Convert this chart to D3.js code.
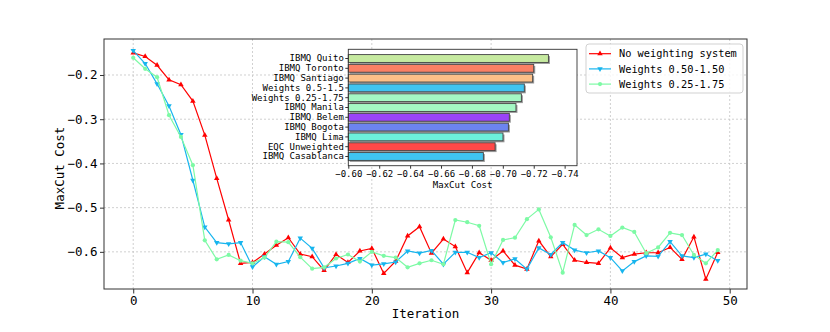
<!DOCTYPE html>
<html>
<head>
<meta charset="utf-8">
<script src="https://cdn.jsdelivr.net/npm/d3@7"></script>
<style>
body { margin: 0; background: #fff; }
svg text { font-family: "DejaVu Sans Mono", monospace; fill: #000; }
</style>
</head>
<body>
<svg id="chart"></svg>
<script>
// iterations on the x axis
var iterations = [0, 1, 2, 3, 4, 5, 6, 7, 8, 9, 10, 11, 12, 13, 14, 15, 16, 17, 18, 19,
	20, 21, 22, 23, 24, 25, 26, 27, 28, 29, 30, 31, 32, 33, 34, 35, 36, 37, 38, 39,
	40, 41, 42, 43, 44, 45, 46, 47, 48, 49];

var noWeighting = [-0.150, -0.158, -0.178, -0.211, -0.222, -0.259, -0.336, -0.434, -0.528, -0.626,
	-0.624, -0.605, -0.585, -0.568, -0.605, -0.611, -0.642, -0.606, -0.624, -0.598,
	-0.592, -0.649, -0.621, -0.564, -0.543, -0.603, -0.571, -0.588, -0.647, -0.602,
	-0.619, -0.598, -0.630, -0.639, -0.575, -0.611, -0.583, -0.619, -0.624, -0.626,
	-0.591, -0.613, -0.605, -0.602, -0.602, -0.590, -0.617, -0.566, -0.662, -0.601];

var weights050 = [-0.145, -0.174, -0.220, -0.270, -0.335, -0.438, -0.544, -0.579, -0.582, -0.579,
	-0.634, -0.611, -0.628, -0.622, -0.569, -0.592, -0.636, -0.632, -0.626, -0.615,
	-0.630, -0.627, -0.623, -0.598, -0.603, -0.597, -0.628, -0.601, -0.601, -0.613,
	-0.602, -0.624, -0.616, -0.639, -0.591, -0.606, -0.579, -0.596, -0.602, -0.598,
	-0.613, -0.643, -0.622, -0.609, -0.610, -0.577, -0.609, -0.613, -0.605, -0.620];

var weights025 = [-0.161, -0.186, -0.205, -0.291, -0.340, -0.404, -0.574, -0.617, -0.607, -0.620,
	-0.626, -0.613, -0.577, -0.578, -0.612, -0.638, -0.635, -0.615, -0.606, -0.622,
	-0.600, -0.609, -0.613, -0.635, -0.626, -0.619, -0.628, -0.528, -0.533, -0.541,
	-0.628, -0.573, -0.568, -0.526, -0.504, -0.567, -0.647, -0.539, -0.562, -0.549,
	-0.564, -0.545, -0.555, -0.603, -0.590, -0.557, -0.562, -0.607, -0.626, -0.596];

var xTicks = [0, 10, 20, 30, 40, 50];
var yTicks = [-0.2, -0.3, -0.4, -0.5, -0.6];

// inset bar chart
var devices = ["IBMQ Quito", "IBMQ Toronto", "IBMQ Santiago", "Weights 0.5-1.5", "Weights 0.25-1.75",
	"IBMQ Manila", "IBMQ Belem", "IBMQ Bogota", "IBMQ Lima", "EQC Unweighted", "IBMQ Casablanca"];
var deviceCost = [-0.7295, -0.720, -0.7193, -0.7139, -0.712, -0.7085, -0.7042, -0.7036, -0.7001, -0.695, -0.6874];
var deviceColors = ["#c6eaa0", "#fa8064", "#fdc088", "#40c4f0", "#a4f8c4",
	"#a4f8c4", "#9a44f8", "#6c84f0", "#6cf0dc", "#ff4848", "#40c4f0"];
var insetTicks = [-0.60, -0.62, -0.64, -0.66, -0.68, -0.70, -0.72, -0.74];

var series = [
	{ name: "No weighting system", values: noWeighting, color: "#ff0000", marker: "up" },
	{ name: "Weights 0.50-1.50", values: weights050, color: "#17b5ee", marker: "down" },
	{ name: "Weights 0.25-1.75", values: weights025, color: "#7dfaa5", marker: "circle" }
];

var width = 830,
	height = 332;
var svg = d3.select("#chart")
	.attr("width", width)
	.attr("height", height);

var x = d3.scaleLinear().domain([-2.45, 51.45]).range([104, 747]);
var y = d3.scaleLinear().domain([-0.684, -0.1186]).range([289, 39]);

// grid
svg.append("g").selectAll("line")
	.data(xTicks)
	.enter().append("line")
	.attr("x1", function (d) { return x(d); })
	.attr("x2", function (d) { return x(d); })
	.attr("y1", 39).attr("y2", 289)
	.attr("stroke", "#c4c4c4").attr("stroke-width", 0.8)
	.attr("stroke-dasharray", "2,2");
svg.append("g").selectAll("line")
	.data(yTicks)
	.enter().append("line")
	.attr("x1", 104).attr("x2", 747)
	.attr("y1", function (d) { return y(d); })
	.attr("y2", function (d) { return y(d); })
	.attr("stroke", "#c4c4c4").attr("stroke-width", 0.8)
	.attr("stroke-dasharray", "2,2");

function markerPath(type) {
	if (type == "circle") return d3.symbol().type(d3.symbolCircle).size(14)();
	return d3.symbol().type(d3.symbolTriangle).size(13)();
}
function markerTransform(type, px, py) {
	if (type == "down") return "translate(" + px + "," + py + ") rotate(180)";
	return "translate(" + px + "," + py + ")";
}

var line = d3.line()
	.x(function (d, i) { return x(iterations[i]); })
	.y(function (d) { return y(d); });

series.forEach(function (s) {
	var g = svg.append("g");
	g.append("path")
		.attr("d", line(s.values))
		.attr("fill", "none")
		.attr("stroke", s.color)
		.attr("stroke-width", 1.2);
	g.selectAll(".pt")
		.data(s.values)
		.enter().append("path")
		.attr("class", "pt")
		.attr("d", markerPath(s.marker))
		.attr("transform", function (d, i) { return markerTransform(s.marker, x(iterations[i]), y(d)); })
		.attr("fill", s.color);
});

// axes
var xAxis = svg.append("g")
	.attr("transform", "translate(0,289)")
	.call(d3.axisBottom(x).tickValues(xTicks).tickFormat(d3.format("d")).tickSize(4.5).tickPadding(3));
var yAxis = svg.append("g")
	.attr("transform", "translate(104,0)")
	.call(d3.axisLeft(y).tickValues(yTicks).tickFormat(d3.format(".1f")).tickSize(4).tickPadding(2.5));
[xAxis, yAxis].forEach(function (a) {
	a.select(".domain").remove();
	a.selectAll(".tick line").attr("stroke", "#333");
	a.selectAll("text").style("font-size", "12.5px").style("font-family", "DejaVu Sans Mono");
});

svg.append("rect")
	.attr("x", 104).attr("y", 39)
	.attr("width", 643).attr("height", 250)
	.attr("fill", "none").attr("stroke", "#333").attr("stroke-width", 1);

svg.append("text")
	.attr("x", 425.5).attr("y", 318)
	.attr("text-anchor", "middle")
	.style("font-size", "12.5px")
	.text("Iteration");
svg.append("text")
	.attr("transform", "translate(64,168) rotate(-90)")
	.attr("text-anchor", "middle")
	.style("font-size", "12.5px")
	.text("MaxCut Cost");

// inset
var ix = d3.scaleLinear().domain([-0.60, -0.748]).range([348.3, 577]);
var iy = d3.scaleBand().domain(devices).range([49.3, 165.7]).paddingInner(0.2).paddingOuter(0.54);

var inset = svg.append("g");
inset.append("rect")
	.attr("x", 348.3).attr("y", 49.3)
	.attr("width", 577 - 348.3).attr("height", 165.7 - 49.3)
	.attr("fill", "#fff");
inset.selectAll(".shadow")
	.data(deviceCost)
	.enter().append("rect")
	.attr("class", "shadow")
	.attr("x", ix(-0.60) + 1.5)
	.attr("y", function (d, i) { return iy(devices[i]) + 1.5; })
	.attr("width", function (d) { return ix(d) - ix(-0.60); })
	.attr("height", iy.bandwidth())
	.attr("fill", "#9a9a9a");
inset.selectAll(".bar")
	.data(deviceCost)
	.enter().append("rect")
	.attr("class", "bar")
	.attr("x", ix(-0.60))
	.attr("y", function (d, i) { return iy(devices[i]); })
	.attr("width", function (d) { return ix(d) - ix(-0.60); })
	.attr("height", iy.bandwidth())
	.attr("fill", function (d, i) { return deviceColors[i]; })
	.attr("stroke", "#444")
	.attr("stroke-width", 0.9);

var ixAxis = inset.append("g")
	.attr("transform", "translate(0,165.7)")
	.call(d3.axisBottom(ix).tickValues(insetTicks).tickFormat(d3.format(".2f")).tickSize(3).tickPadding(2));
var iyAxis = inset.append("g")
	.attr("transform", "translate(348.3,0)")
	.call(d3.axisLeft(iy).tickSize(3).tickPadding(1.5));
[ixAxis, iyAxis].forEach(function (a) {
	a.select(".domain").remove();
	a.selectAll(".tick line").attr("stroke", "#333");
	a.selectAll("text").style("font-size", "9px").style("font-family", "DejaVu Sans Mono");
});
inset.append("rect")
	.attr("x", 348.3).attr("y", 49.3)
	.attr("width", 577 - 348.3).attr("height", 165.7 - 49.3)
	.attr("fill", "none").attr("stroke", "#333").attr("stroke-width", 0.9);
inset.append("text")
	.attr("x", (348.3 + 577) / 2).attr("y", 188)
	.attr("text-anchor", "middle")
	.style("font-size", "9px")
	.text("MaxCut Cost");

// legend
var legend = svg.append("g");
legend.append("rect")
	.attr("x", 586).attr("y", 44)
	.attr("width", 157).attr("height", 49)
	.attr("rx", 3)
	.attr("fill", "#fff").attr("fill-opacity", 0.8)
	.attr("stroke", "#ccc").attr("stroke-width", 0.9);
var item = legend.selectAll(".item")
	.data(series)
	.enter().append("g")
	.attr("class", "item")
	.attr("transform", function (d, i) { return "translate(0," + (53.7 + i * 15.2) + ")"; });
item.append("line")
	.attr("x1", 589).attr("x2", 611)
	.attr("stroke", function (d) { return d.color; })
	.attr("stroke-width", 1.2);
item.append("path")
	.attr("d", function (d) { return markerPath(d.marker); })
	.attr("transform", function (d) { return markerTransform(d.marker, 600, 0); })
	.attr("fill", function (d) { return d.color; });
item.append("text")
	.attr("x", 619)
	.attr("dy", "0.35em")
	.style("font-size", "10.3px")
	.text(function (d) { return d.name; });
</script>
</body>
</html>
